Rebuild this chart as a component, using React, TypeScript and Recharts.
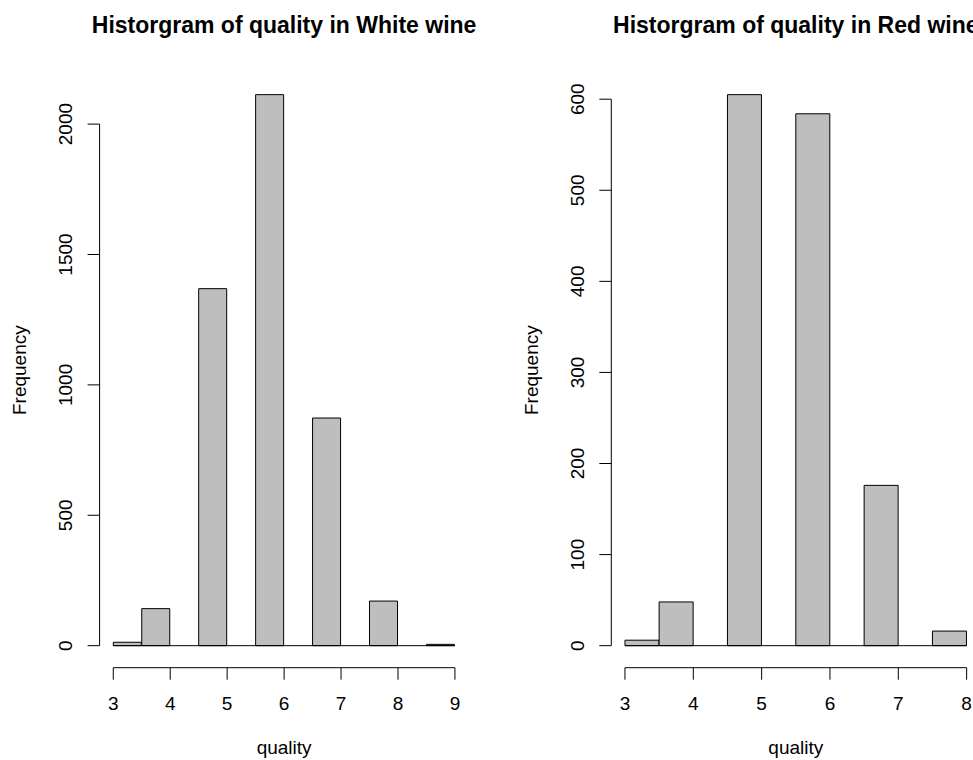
import React from 'react';
import { ComposedChart, Bar, XAxis, YAxis, ReferenceLine } from 'recharts';

const FONT = '"Liberation Sans", Arial, Helvetica, sans-serif';

// histogram bins (left edge of each 0.5-wide bin) and counts
const whiteBinStarts = [3, 3.5, 4, 4.5, 5, 5.5, 6, 6.5, 7, 7.5, 8, 8.5];
const whiteCounts = [13, 142, 0, 1369, 0, 2113, 0, 873, 0, 171, 0, 5];
const whiteXTicks = [3, 4, 5, 6, 7, 8, 9];
const whiteYTicks = [0, 500, 1000, 1500, 2000];

const redBinStarts = [3, 3.5, 4, 4.5, 5, 5.5, 6, 6.5, 7, 7.5];
const redCounts = [6, 48, 0, 605, 0, 584, 0, 176, 0, 16];
const redXTicks = [3, 4, 5, 6, 7, 8];
const redYTicks = [0, 100, 200, 300, 400, 500, 600];

const BIN_WIDTH = 0.5;

// page layout
const PAGE_W = 973;
const PAGE_H = 760;
const PLOT_TOP = 72.6;
const PLOT_BOTTOM = 667.7;
const Y_AXIS_W = 60;
const X_AXIS_H = 60;
const TICK_SIZE = 12;
const FONT_SIZE = 19;

interface HistProps {
  title: string;
  binStarts: number[];
  counts: number[];
  xTicks: number[];
  yTicks: number[];
  left: number;
  width: number;
  plotLeft: number;
  plotRight: number;
}

const YTick = (props: any) => {
  const { x, y, payload } = props;
  return (
    <text
      x={x}
      y={y}
      dy="0.35em"
      transform={`rotate(-90 ${x} ${y})`}
      textAnchor="middle"
      fill="#000"
      fontSize={FONT_SIZE}
      fontFamily={FONT}
    >
      {payload.value}
    </text>
  );
};

const XTick = (props: any) => {
  const { x, y, payload } = props;
  return (
    <text x={x} y={y} dy="0.71em" textAnchor="middle" fill="#000" fontSize={FONT_SIZE} fontFamily={FONT}>
      {payload.value}
    </text>
  );
};

const Histogram: React.FC<HistProps> = ({ title, binStarts, counts, xTicks, yTicks, left, width, plotLeft, plotRight }) => {
  const data = binStarts.map((s, i) => ({ mid: s + BIN_WIDTH / 2, count: counts[i] }));
  const xLo = binStarts[0];
  const xHi = binStarts[binStarts.length - 1] + BIN_WIDTH;
  const xPad = 0.04 * (xHi - xLo);
  const yMax = Math.max(...counts);
  const yLo = -0.04 * yMax;
  const yHi = 1.04 * yMax;

  const margin = {
    top: PLOT_TOP,
    bottom: PAGE_H - PLOT_BOTTOM - X_AXIS_H,
    left: plotLeft - left - Y_AXIS_W,
    right: width - (plotRight - left),
  };

  return (
    <div style={{ position: 'absolute', left, top: 0 }}>
      <ComposedChart width={width} height={PAGE_H} data={data} margin={margin} barCategoryGap={0} barGap={0}>
        <XAxis
          dataKey="mid"
          type="number"
          domain={[xLo - xPad, xHi + xPad]}
          allowDataOverflow
          ticks={xTicks}
          interval={0}
          height={X_AXIS_H}
          axisLine={false}
          tickSize={TICK_SIZE}
          tickMargin={17}
          tickLine={{ stroke: '#000' }}
          tick={<XTick />}
          label={(p: any) => {
            const vb = p.viewBox;
            return (
              <text x={vb.x + vb.width / 2} y={vb.y + 86.5} textAnchor="middle" fontSize={FONT_SIZE} fontFamily={FONT} fill="#000">
                quality
              </text>
            );
          }}
        />
        <YAxis
          type="number"
          domain={[yLo, yHi]}
          allowDataOverflow
          ticks={yTicks}
          interval={0}
          width={Y_AXIS_W}
          axisLine={false}
          tickSize={TICK_SIZE}
          tickMargin={22}
          tickLine={{ stroke: '#000' }}
          tick={<YTick />}
          label={(p: any) => {
            const vb = p.viewBox;
            const lx = vb.x + vb.width - 73.5;
            const ly = vb.y + vb.height / 2;
            return (
              <text x={lx} y={ly} transform={`rotate(-90 ${lx} ${ly})`} textAnchor="middle" fontSize={FONT_SIZE} fontFamily={FONT} fill="#000">
                Frequency
              </text>
            );
          }}
        />
        <Bar dataKey="count" fill="#BEBEBE" stroke="#000" strokeWidth={1} isAnimationActive={false} />
        <ReferenceLine segment={[{ x: xLo, y: 0 }, { x: xHi, y: 0 }]} stroke="#000" ifOverflow="visible" />
        <ReferenceLine segment={[{ x: xLo, y: yLo }, { x: xHi, y: yLo }]} stroke="#000" ifOverflow="visible" />
        <ReferenceLine
          segment={[{ x: xLo - xPad, y: yTicks[0] }, { x: xLo - xPad, y: yTicks[yTicks.length - 1] }]}
          stroke="#000"
          ifOverflow="visible"
        />
      </ComposedChart>
      <svg width={width} height={60} style={{ position: 'absolute', left: 0, top: 0, overflow: 'visible' }}>
        <text
          x={(plotLeft + plotRight) / 2 - left}
          y={33.3}
          textAnchor="middle"
          fontSize={23}
          fontWeight="bold"
          fontFamily={FONT}
          fill="#000"
        >
          {title}
        </text>
      </svg>
    </div>
  );
};

export default function App() {
  return (
    <div style={{ position: 'absolute', left: 0, top: 0, width: PAGE_W, height: PAGE_H, overflow: 'hidden', background: '#fff' }}>
      <Histogram
        title="Historgram of quality in White wine"
        binStarts={whiteBinStarts}
        counts={whiteCounts}
        xTicks={whiteXTicks}
        yTicks={whiteYTicks}
        left={0}
        width={486}
        plotLeft={99.6}
        plotRight={468.6}
      />
      <Histogram
        title="Historgram of quality in Red wine"
        binStarts={redBinStarts}
        counts={redCounts}
        xTicks={redXTicks}
        yTicks={redYTicks}
        left={486}
        width={500}
        plotLeft={611.3}
        plotRight={980.3}
      />
    </div>
  );
}
